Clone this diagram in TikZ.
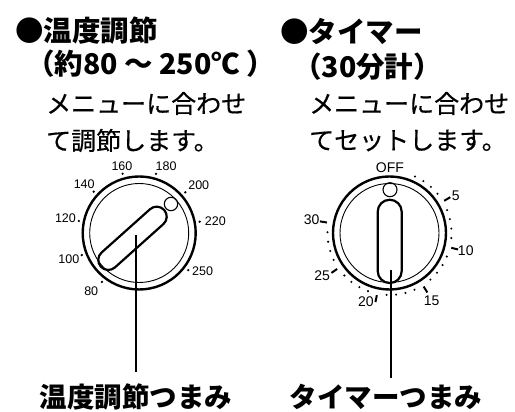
\documentclass[tikz,border=0pt]{standalone}
\usepackage{fontspec}
\setmainfont{Liberation Sans}
\newfontfamily\jp{Noto Sans CJK JP}
\newfontfamily\jpnote{Noto Sans CJK JP}[FakeBold=0.5]
\usetikzlibrary{shapes.misc}

\tikzset{
  head/.style={font=\jp\bfseries\fontsize{28.5}{30}\selectfont,anchor=west,inner sep=0pt},
  note/.style={font=\jpnote\fontsize{25}{28}\selectfont,anchor=west,inner sep=0pt},
  caption/.style={font=\jp\bfseries\fontsize{27.5}{30}\selectfont,inner sep=0pt},
  ring/.style={draw=black,line width=2.4pt},
  inner ring/.style={draw=black,line width=0.9pt},
  knob/.style={rounded rectangle,draw=black,line width=2.2pt,inner sep=0pt},
  lamp/.style={circle,draw=black,line width=1.1pt,inner sep=0pt},
  dot/.style={circle,fill=black,inner sep=0pt,minimum size=2.6pt},
  tlabel/.style={font=\fontsize{12.5}{13}\selectfont,inner sep=0pt},
  mlabel/.style={font=\fontsize{14}{15}\selectfont,inner sep=0pt},
  tick5/.style={line width=2pt},
  leader/.style={line width=2pt}
}

\begin{document}
\begin{tikzpicture}[x=1pt,y=1pt]
\fill[white] (0,0) rectangle (515,412);
\useasboundingbox (0,0) rectangle (515,412);

% left column text
\node[head] (thead) at (15,381.3) {●温度調節};
\node[head] (trange) at (26,348.7) {（約80 ～ 250℃ ）};
\node[note] (tnote1) at (46,308.5) {メニューに合わせ};
\node[note] (tnote2) at (46,271.5) {て調節します。};

% right column text
\node[head] (mhead) at (280,380.3) {●タイマー};
\node[head] (mrange) at (293,345.3) {（30分計）};
\node[note] (mnote1) at (309,308.5) {メニューに合わせ};
\node[note] (mnote2) at (309,271.5) {てセットします。};

% temperature dial
\begin{scope}[shift={(139.2,179)}]
\draw[ring] (0,0) circle (56.5);
\draw[inner ring] (0,0) circle (49.5);
\foreach \a/\val/\la/\lr in {232.7/80/230.3/75.1, 201/100/200.3/75, 168.7/120/168.7/75.2,
  137.8/140/138.6/73.3, 105.6/160/104.4/69.4, 74.1/180/68/72, 41.4/200/38.7/76.3,
  10.6/220/9.1/77.1, -37.1/250/-31.4/74.2}{
  \node[dot] (tdot\val) at (\a:61.5) {};
  \node[tlabel] (tnum\val) at (\la:\lr) {\val};
}
\node[lamp,minimum size=13.4pt] (tlamp) at (31.8,29) {};
\node[knob,rotate=41.8,minimum width=85pt,minimum height=20pt] (tknob) at (-6.7,-5.3) {};
\end{scope}

% timer dial
\begin{scope}[shift={(389.5,179)}]
\draw[ring] (0,0) circle (56.5);
\draw[inner ring] (0,0) circle (49.5);
\foreach \m in {1,2,3,4,6,7,8,9,11,12,13,14,16,17,18,19,21,22,23,24,26,27,28,29}{
  \node[dot,minimum size=2.3pt] (mdot\m) at ({74.5-8.8*\m}:62) {};
}
\foreach \m/\la/\lr in {5/29.2/75.9, 10/-13.1/78.3, 15/-58/79.6, 20/-108.9/73.1,
  25/-147.6/79.7, 30/170.3/78.9}{
  \draw[tick5] ({74.5-8.8*\m}:63.5) -- ({74.5-8.8*\m}:70.5);
  \node[mlabel] (mnum\m) at (\la:\lr) {\m};
}
\node[mlabel] (off) at (89.6:65) {OFF};
\node[lamp,minimum size=14pt] (mlamp) at (0.5,43.3) {};
\node[knob,rotate=90,minimum width=83.3pt,minimum height=24pt] (mknob) at (0.2,-8.4) {};
\end{scope}

% pointers down to the captions
\coordinate (tpivot) at (135.5,177);
\coordinate (tfoot) at (135.5,40);
\draw[leader] (tpivot) -- (tfoot);
\coordinate (mpivot) at (390.5,142);
\coordinate (mfoot) at (390.5,33.7);
\draw[leader] (mpivot) -- (mfoot);

\node[caption] (tcap) at (135.8,15.5) {温度調節つまみ};
\node[caption] (mcap) at (385.8,15.5) {タイマーつまみ};
\end{tikzpicture}
\end{document}
